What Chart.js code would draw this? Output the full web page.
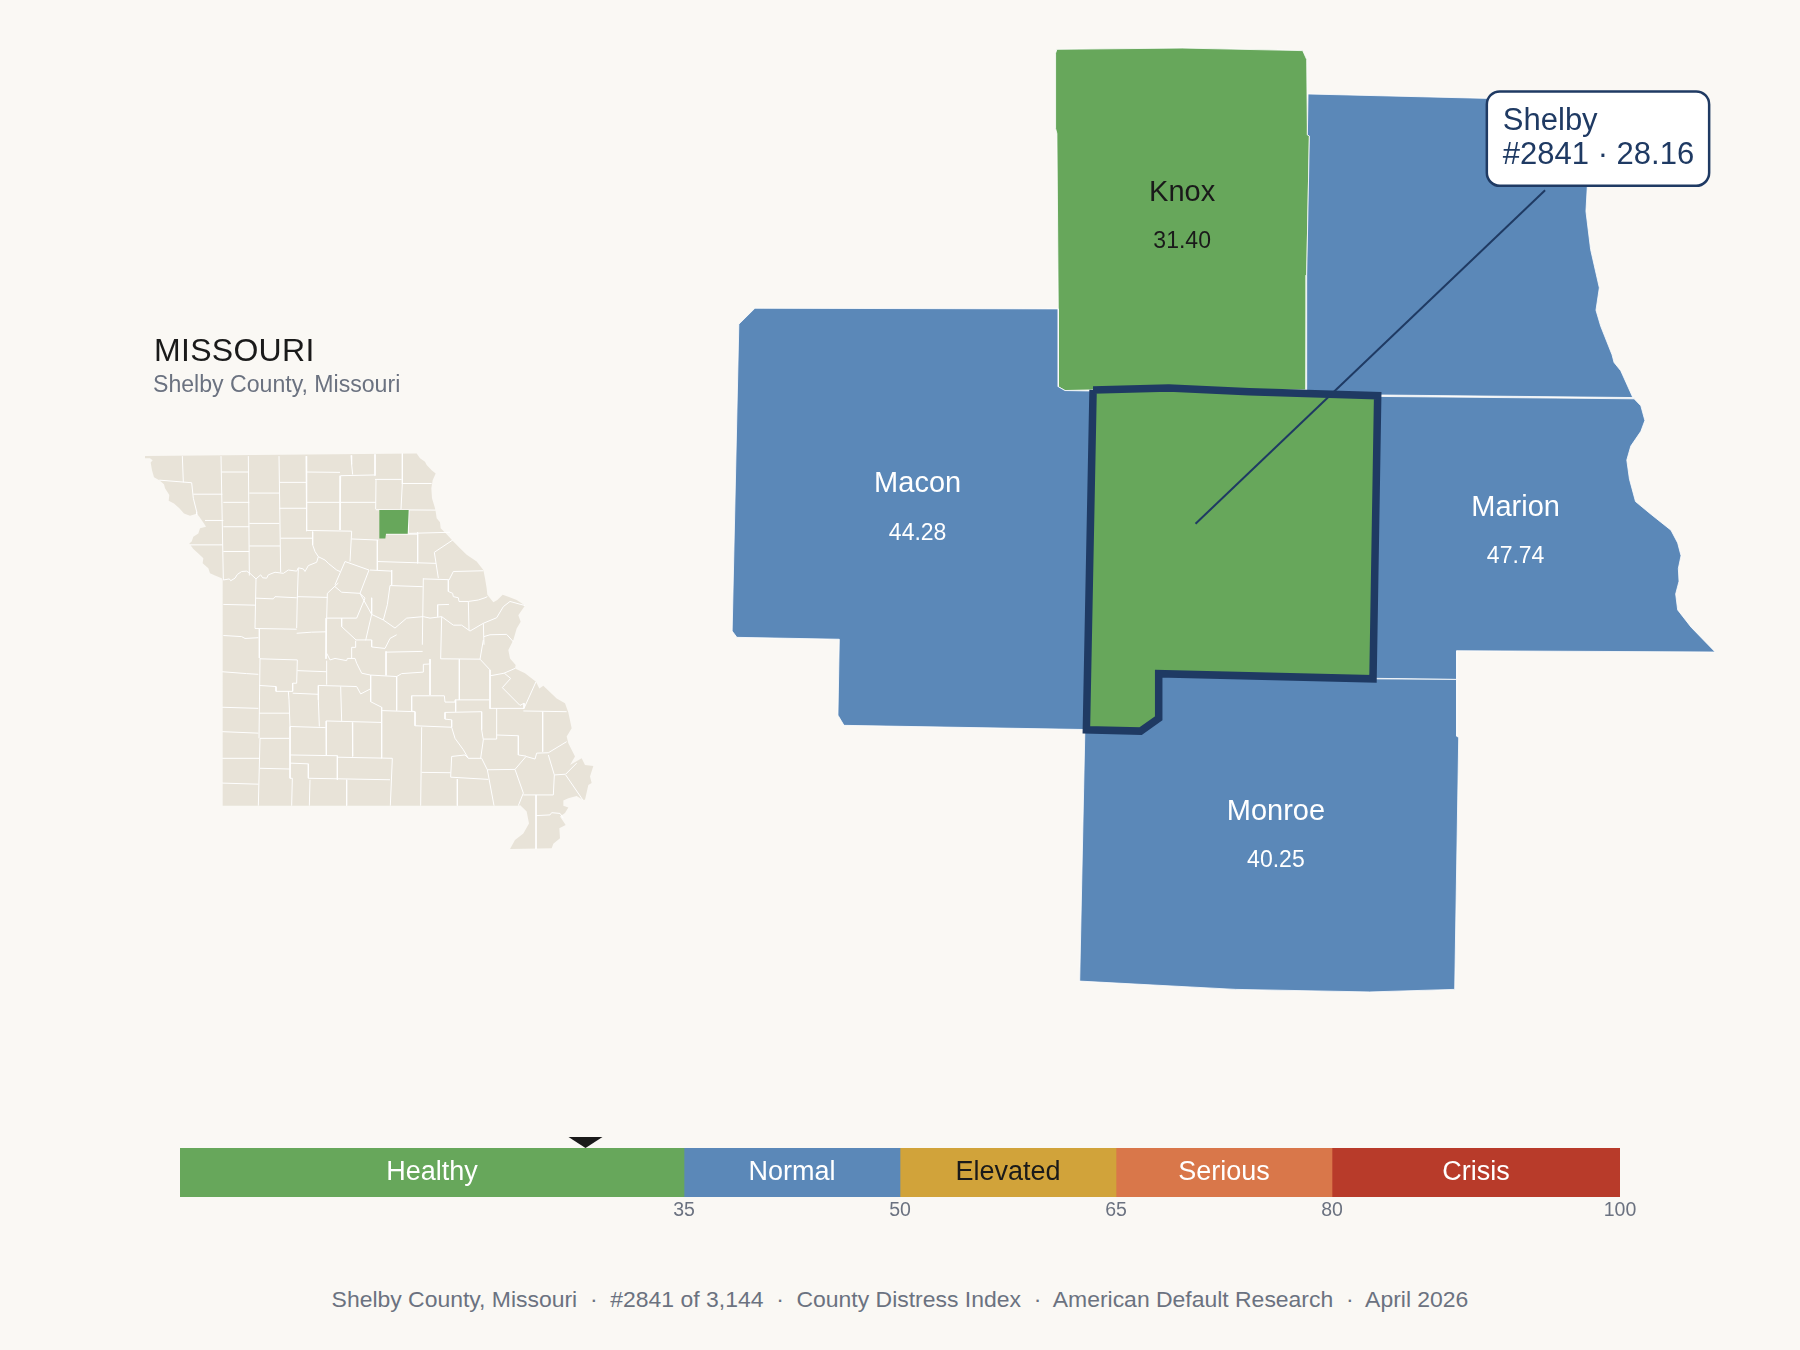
<!DOCTYPE html>
<html>
<head>
<meta charset="utf-8">
<title>Shelby County, Missouri</title>
<script src="https://cdn.jsdelivr.net/npm/chart.js@4"></script>
<style>
    html, body { margin: 0; padding: 0; background: #faf8f4; }
    body { position: relative; width: 1800px; height: 1350px; overflow: hidden; font-family: "Liberation Sans", Arial, sans-serif; }
    canvas { position: absolute; }
    .txt { position: absolute; white-space: pre; line-height: 1; }
    #state-title { left: 154px; top: 334px; font-size: 32px; letter-spacing: 0.3px; color: #1a1a1a; }
    #state-sub { left: 153px; top: 373px; font-size: 23.1px; color: #6b7280; }
    #footer { left: 0; width: 1800px; text-align: center; top: 1288px; font-size: 22.95px; color: #6b7280; }
</style>
</head>
<body>
<canvas id="inset-map" style="left:120px;top:300px"></canvas>
<canvas id="focus-map" style="left:700px;top:20px"></canvas>
<canvas id="gauge" style="left:0;top:1120px"></canvas>
<div class="txt" id="state-title">MISSOURI</div>
<div class="txt" id="state-sub">Shelby County, Missouri</div>
<div class="txt" id="footer">Shelby County, Missouri  ·  #2841 of 3,144  ·  County Distress Index  ·  American Default Research  ·  April 2026</div>

<script>
// Score bands
const bandNames = ['Healthy', 'Normal', 'Elevated', 'Serious', 'Crisis'];
const bandTicks = [35, 50, 65, 80, 100];
const bandColors = ['#67a75b', '#5b88b8', '#d1a33a', '#d9774a', '#b83b2a'];
const bandTextColors = ['#ffffff', '#ffffff', '#1a1a1a', '#ffffff', '#ffffff'];

// Focus county
const focusName = 'Shelby';
const focusRank = 2841;
const focusScore = 28.16;

// Neighbours
const neighbourNames = ['Knox', 'Macon', 'Marion', 'Monroe'];
const neighbourScores = [31.40, 44.28, 47.74, 40.25];

// Outlines for the big map, in map units
const knoxShape = [[533,46],[720,44],[900,48],[906,62],[907,180],[910,182],[906,400],[905,580],[583,580],[545,581],[535,575],[535,450],[533,178],[531,170],[531,52]];
const lewisShape = [[908,116],[1180,123],[1325,123],[1325,262],[1323,300],[1330,360],[1343,420],[1338,455],[1345,480],[1362,525],[1365,537],[1375,550],[1393,592],[1017,588],[905,582],[906,400],[910,182],[907,180]];
const maconShape = [[82,452],[535,453],[535,575],[545,581],[600,582],[600,1113],[215,1106],[206,1090],[208,971],[55,968],[48,958],[58,477]];
const marionShape = [[990,590],[1395,594],[1405,605],[1411,628],[1405,645],[1390,668],[1384,690],[1388,720],[1397,755],[1420,775],[1450,800],[1460,820],[1465,840],[1461,860],[1462,880],[1457,900],[1460,925],[1480,952],[1516,991],[1130,989],[1130,1034],[990,1032]];
const monroeShape = [[575,1100],[660,1100],[670,1095],[670,1028],[990,1028],[1000,1033],[1130,1034],[1130,1123],[1133,1125],[1127,1520],[1000,1524],[800,1520],[567,1507]];
const shelbyShape = [[587,580],[700,577],[820,583],[1012,589],[1005,1033],[685,1025],[685,1095],[658,1115],[577,1113]];
const leaderLine = [[740,790],[1262,267]];

// Outlines for the state inset, in inset units
const stateShape = [
    [75,422],[890,415],[900,428],[915,437],[920,446],[935,460],[947,469],[938,487],[934,509],[936,536],[945,563],[947,572],[950,590],[960,601],[962,617],
    [980,633],[1000,653],[1020,671],[1040,689],[1070,707],[1090,730],[1095,752],[1100,779],[1102,797],[1120,817],[1132,811],[1148,797],[1165,802],[1190,811],[1215,826],
    [1195,852],[1202,870],[1190,888],[1180,919],[1165,946],[1170,969],[1187,987],[1185,996],[1215,1009],[1248,1032],[1258,1050],[1270,1043],[1310,1077],[1335,1090],
    [1345,1115],[1355,1158],[1340,1180],[1345,1198],[1365,1234],[1350,1257],[1385,1239],[1395,1257],[1420,1260],[1410,1288],[1415,1306],[1405,1311],[1395,1351],[1388,1351],
    [1370,1341],[1345,1347],[1330,1353],[1330,1367],[1345,1372],[1335,1387],[1320,1396],[1337,1419],[1318,1428],[1320,1455],[1300,1470],[1295,1482],[1170,1484],
    [1185,1460],[1210,1442],[1227,1415],[1220,1383],[1200,1365],[1197,1367],[307,1367],[308,757],[305,752],[285,745],[270,739],[265,725],[248,712],[250,698],[235,685],
    [220,673],[208,658],[215,653],[220,640],[235,631],[240,617],[258,613],[252,604],[238,586],[230,577],[225,579],[210,583],[192,577],[178,563],[162,550],[146,543],
    [148,527],[135,509],[132,498],[118,487],[102,479],[96,460],[92,439],[98,433],[90,428],[75,428]
];
const insetShelbyShape = [[778,568],[866,568],[863,632],[798,632],[796,645],[777,645]];
const countyLines = [
    // north west
    [[187,422],[190,493]], [[118,487],[215,494],[220,536],[230,572],[230,581]], [[220,525],[307,525]], [[255,596],[310,596]],
    [[303,422],[310,757]], [[305,465],[385,465]], [[385,422],[388,745]], [[310,547],[388,547]], [[310,613],[388,613]],
    [[210,662],[308,662]], [[310,680],[388,680]], [[388,522],[478,522]], [[388,604],[478,604]], [[388,665],[480,665]],
    [[477,422],[482,736]], [[478,493],[558,493]], [[478,563],[560,563]], [[482,644],[578,644]], [[558,422],[560,625]],
    [[558,465],[660,466]], [[560,547],[768,547]], [[560,623],[695,625]], [[662,475],[660,622]], [[662,475],[765,473]],
    [[693,420],[695,445],[698,472]], [[695,625],[690,707]], [[695,646],[775,649]],
    // river across the north
    [[310,757],[328,754],[332,759],[345,752],[352,742],[365,734],[380,733],[390,739],[408,754],[422,743],[428,751],[440,752],[445,743],[465,736],[490,739],[505,730],[530,733],[535,724],[550,727],[555,734],[565,718],[590,709],[595,694],[615,703],[625,712],[650,730],[660,734]],
    [[578,626],[578,662],[585,680],[595,694]],
    // north east
    [[765,417],[765,475]], [[847,415],[847,496],[843,565]], [[765,485],[845,485]], [[845,496],[935,496]], [[768,487],[767,565]],
    [[767,567],[947,568]], [[867,568],[865,631]], [[893,628],[893,712]], [[865,631],[990,628]], [[772,649],[772,730]],
    [[797,633],[892,633]], [[943,682],[998,649]], [[943,682],[955,752]], [[772,707],[948,712]], [[815,730],[815,770]],
    [[750,730],[815,733]], [[910,752],[907,932]], [[810,772],[908,775]], [[810,772],[802,824],[790,865]], [[910,754],[985,756]],
    [[985,756],[985,788],[998,793],[1000,802],[1015,805],[1017,815],[1045,815],[1075,811],[1095,805],[1102,802]],
    [[1000,734],[1090,732]], [[1000,734],[987,757]], [[1045,815],[1047,892]], [[953,824],[987,823]], [[953,824],[953,856]],
    [[1090,874],[1092,932]], [[965,856],[962,970]],
    [[790,865],[825,887],[860,860],[910,856],[930,860],[965,856],[1000,879],[1025,879],[1050,895],[1090,874],[1130,859],[1150,829],[1170,815],[1215,826]],
    [[1092,910],[1110,905],[1160,904],[1180,924]],
    // middle
    [[535,725],[532,805]], [[408,754],[405,888]], [[310,823],[405,825]], [[407,806],[460,808],[465,802],[530,805]],
    [[532,802],[622,804]], [[532,802],[530,887]], [[622,793],[620,860],[618,970]], [[622,793],[655,765]], [[675,707],[747,730]],
    [[675,707],[645,770]], [[645,775],[665,790],[720,793],[747,730]], [[720,793],[735,806],[710,860]], [[620,860],[710,860]],
    [[720,793],[755,850],[790,865]], [[755,805],[755,850],[737,920]], [[665,860],[665,883],[708,919]], [[708,919],[755,919],[755,938],[795,942],[810,915],[830,905]],
    [[405,888],[530,890]], [[418,889],[418,968]], [[530,901],[575,898],[618,897]],
    [[310,907],[365,910],[375,915],[415,913]], [[307,1005],[380,1010],[415,1012]],
    [[620,955],[630,973],[645,969],[680,975],[682,969],[705,969],[710,982],[725,1009],[752,1014]], [[695,969],[695,939],[707,939],[707,921]],
    [[620,1040],[620,975]], [[532,1002],[620,1005]], [[518,1063],[595,1066]], [[420,970],[532,973]],
    [[532,973],[530,1036],[518,1036],[518,1058]], [[420,968],[417,1185]], [[417,1042],[468,1045],[468,1058],[518,1058]],
    [[798,950],[798,1015]], [[798,952],[908,950]], [[752,1014],[830,1018],[845,1010],[910,1006],[910,985],[930,984],[930,971]],
    [[830,1018],[830,1110]], [[752,1014],[752,1086],[785,1101],[785,1239]], [[595,1042],[710,1045],[722,1065],[750,1052]],
    [[595,1042],[595,1081],[598,1153]], [[662,1045],[665,1138]],
    // south west
    [[307,1101],[415,1104]], [[307,1167],[415,1171]], [[307,1239],[417,1239]], [[307,1306],[415,1309]],
    [[417,1117],[507,1117]], [[505,1058],[507,1081],[510,1153],[510,1230],[510,1293],[517,1293],[515,1367]],
    [[420,1185],[507,1185]], [[420,1185],[415,1367]], [[420,1266],[510,1268]], [[510,1153],[617,1156]],
    [[618,1138],[618,1189],[620,1230]], [[618,1138],[783,1142]], [[697,1142],[698,1234]], [[510,1230],[652,1232]], [[652,1232],[652,1297]],
    [[510,1252],[565,1254],[565,1293],[810,1297]], [[570,1297],[568,1367]], [[680,1297],[680,1367]], [[652,1236],[817,1239]],
    [[817,1239],[811,1367]],
    // south east
    [[785,1110],[885,1113]], [[875,1070],[875,1111],[885,1113],[885,1151],[995,1155]], [[875,1070],[973,1070],[975,1087],[1005,1087],[1005,1081],[1108,1081]],
    [[1007,1081],[1007,1113]], [[975,1115],[1085,1113]], [[975,1115],[975,1133],[995,1135],[995,1155],[1005,1185],[1030,1216],[1045,1239]],
    [[995,1234],[1035,1230],[1045,1239],[1085,1239],[1102,1270],[1185,1269]], [[995,1234],[992,1290],[1105,1296]], [[1102,1270],[1122,1367]], [[1012,1295],[1012,1367]],
    [[1085,1113],[1085,1162],[1090,1189],[1082,1239]], [[1090,1187],[1130,1187],[1130,1104]], [[1108,1104],[1212,1104]],
    [[1130,1176],[1195,1178],[1195,1230],[1218,1233]], [[1185,1269],[1210,1333],[1195,1367]], [[1185,1269],[1218,1234],[1245,1241],[1250,1225],[1285,1224],[1340,1194]],
    [[1285,1230],[1303,1284],[1300,1338]], [[1210,1338],[1300,1338]], [[1303,1284],[1337,1282],[1370,1252]], [[1337,1284],[1388,1351]],
    [[1248,1338],[1248,1484]], [[1248,1394],[1290,1392],[1295,1386],[1320,1388],[1330,1401]], [[1210,1111],[1340,1113]], [[1268,1113],[1268,1221]],
    [[1212,1104],[1248,1032]], [[1147,1048],[1172,1023],[1153,1009]], [[1147,1048],[1200,1096],[1212,1090],[1212,1104]],
    [[1110,1016],[1152,1009],[1185,996]], [[1080,971],[1110,1000],[1110,1104]], [[930,971],[930,1068]], [[1018,971],[1018,1081]],
    [[962,970],[1080,971]], [[1090,919],[1080,971]], [[905,1155],[902,1367]], [[905,1277],[992,1278]]
];

const FONT = '"Liberation Sans", Arial, sans-serif';

function bandColor(score) {
    const idx = bandTicks.findIndex(t => score < t);
    return bandColors[idx];
}

function toPoints(shape) {
    return shape.map(p => ({ x: p[0], y: p[1] }));
}

// A filled closed outline
function areaDataset(shape, fillColor, lineColor, lineWidth) {
    const pts = toPoints(shape);
    pts.push(pts[0]);
    return {
        data: pts,
        showLine: true,
        fill: 'shape',
        backgroundColor: fillColor,
        borderColor: lineColor,
        borderWidth: lineWidth,
        pointRadius: 0,
        tension: 0,
        clip: false
    };
}

function lineDataset(shape, lineColor, lineWidth) {
    return {
        data: toPoints(shape),
        showLine: true,
        fill: false,
        borderColor: lineColor,
        borderWidth: lineWidth,
        pointRadius: 0,
        tension: 0,
        clip: false
    };
}

function mapOptions(xMax, yMax) {
    return {
        responsive: false,
        animation: false,
        events: [],
        layout: { padding: 0 },
        plugins: { legend: { display: false }, tooltip: { enabled: false } },
        scales: {
            x: { type: 'linear', display: false, min: 0, max: xMax },
            y: { type: 'linear', display: false, min: 0, max: yMax, reverse: true }
        }
    };
}

// State inset
const insetCanvas = document.getElementById('inset-map');
insetCanvas.width = 500;
insetCanvas.height = 580;
new Chart(insetCanvas, {
    type: 'scatter',
    data: {
        datasets: [
            areaDataset(insetShelbyShape, bandColor(focusScore), bandColor(focusScore), 0),
            ...countyLines.map(l => lineDataset(l, '#ffffff', 1)),
            areaDataset(stateShape, '#e8e3d8', '#e8e3d8', 0)
        ]
    },
    options: mapOptions(1500, 1568)
});

// Labels and callout on the big map
const neighbourAnchors = [[720,271],[325,728],[1218,765],[860,1242]];
const neighbourTextColors = ['#1a1a1a', '#ffffff', '#ffffff', '#ffffff'];

const focusLabels = {
    id: 'focusLabels',
    afterDatasetsDraw(chart) {
        const { ctx, scales } = chart;
        const x = scales.x, y = scales.y;
        ctx.save();
        ctx.textAlign = 'center';
        ctx.textBaseline = 'middle';
        neighbourNames.forEach((name, i) => {
            const px = x.getPixelForValue(neighbourAnchors[i][0]);
            const py = y.getPixelForValue(neighbourAnchors[i][1]);
            ctx.fillStyle = neighbourTextColors[i];
            ctx.font = '29px ' + FONT;
            ctx.fillText(name, px, py);
            ctx.font = '23px ' + FONT;
            ctx.fillText(neighbourScores[i].toFixed(2), px, py + 49);
        });

        // callout box
        const left = x.getPixelForValue(1175), right = x.getPixelForValue(1507);
        const top = y.getPixelForValue(112), bottom = y.getPixelForValue(260);
        ctx.beginPath();
        ctx.roundRect(left, top, right - left, bottom - top, 13);
        ctx.fillStyle = '#ffffff';
        ctx.fill();
        ctx.strokeStyle = '#1f3a63';
        ctx.lineWidth = 2.5;
        ctx.stroke();
        ctx.fillStyle = '#1f3a63';
        ctx.font = '31px ' + FONT;
        ctx.textAlign = 'left';
        ctx.fillText(focusName, left + 16, top + 30);
        ctx.fillText('#' + focusRank + ' · ' + focusScore.toFixed(2), left + 16, top + 64);
        ctx.restore();
    }
};

const focusCanvas = document.getElementById('focus-map');
focusCanvas.width = 1050;
focusCanvas.height = 1000;
new Chart(focusCanvas, {
    type: 'scatter',
    data: {
        datasets: [
            lineDataset(leaderLine, '#1f3a63', 2),
            Object.assign(areaDataset(shelbyShape, bandColor(focusScore), '#1f3a63', 7.5), { borderJoinStyle: 'miter' }),
            areaDataset(monroeShape, bandColor(neighbourScores[3]), '#ffffff', 0.8),
            areaDataset(marionShape, bandColor(neighbourScores[2]), '#ffffff', 0.8),
            areaDataset(maconShape, bandColor(neighbourScores[1]), '#ffffff', 0.8),
            areaDataset(lewisShape, bandColors[1], '#ffffff', 0.8),
            areaDataset(knoxShape, bandColor(neighbourScores[0]), '#ffffff', 0.8)
        ]
    },
    options: mapOptions(1568, 1568),
    plugins: [focusLabels]
});

// Gauge at the bottom
const gaugeMarks = {
    id: 'gaugeMarks',
    afterDatasetsDraw(chart) {
        const { ctx, scales, chartArea } = chart;
        ctx.save();
        ctx.textAlign = 'center';
        ctx.textBaseline = 'middle';
        ctx.font = '27px ' + FONT;
        chart.data.datasets.forEach((ds, i) => {
            const bar = chart.getDatasetMeta(i).data[0];
            const c = bar.getCenterPoint();
            ctx.fillStyle = bandTextColors[i];
            ctx.fillText(ds.label, c.x, c.y);
        });

        // marker for the county score
        const mx = scales.x.getPixelForValue(focusScore);
        ctx.fillStyle = '#1a1a1a';
        ctx.beginPath();
        ctx.moveTo(mx - 17, chartArea.top - 11);
        ctx.lineTo(mx + 17, chartArea.top - 11);
        ctx.lineTo(mx, chartArea.top);
        ctx.closePath();
        ctx.fill();
        ctx.restore();
    }
};

const gaugeCanvas = document.getElementById('gauge');
gaugeCanvas.width = 1800;
gaugeCanvas.height = 120;
new Chart(gaugeCanvas, {
    type: 'bar',
    data: {
        labels: [''],
        datasets: bandNames.map((name, i) => ({
            label: name,
            data: [bandTicks[i] - (i ? bandTicks[i - 1] : 0)],
            backgroundColor: bandColors[i],
            borderWidth: 0,
            categoryPercentage: 1,
            barPercentage: 1
        }))
    },
    options: {
        indexAxis: 'y',
        responsive: false,
        animation: false,
        events: [],
        layout: { padding: { left: 180, right: 180, top: 28, bottom: 3 } },
        plugins: { legend: { display: false }, tooltip: { enabled: false } },
        scales: {
            x: {
                type: 'linear',
                stacked: true,
                min: 0,
                max: 100,
                grid: { display: false, drawTicks: false },
                border: { display: false },
                afterBuildTicks(axis) {
                    axis.ticks = bandTicks.map(v => ({ value: v }));
                },
                afterFit(axis) {
                    axis.height = 40;
                },
                ticks: {
                    autoSkip: false,
                    maxRotation: 0,
                    padding: 2,
                    color: '#6b7280',
                    font: { family: FONT, size: 19.5 }
                }
            },
            y: { stacked: true, display: false }
        }
    },
    plugins: [gaugeMarks]
});
</script>
</body>
</html>
